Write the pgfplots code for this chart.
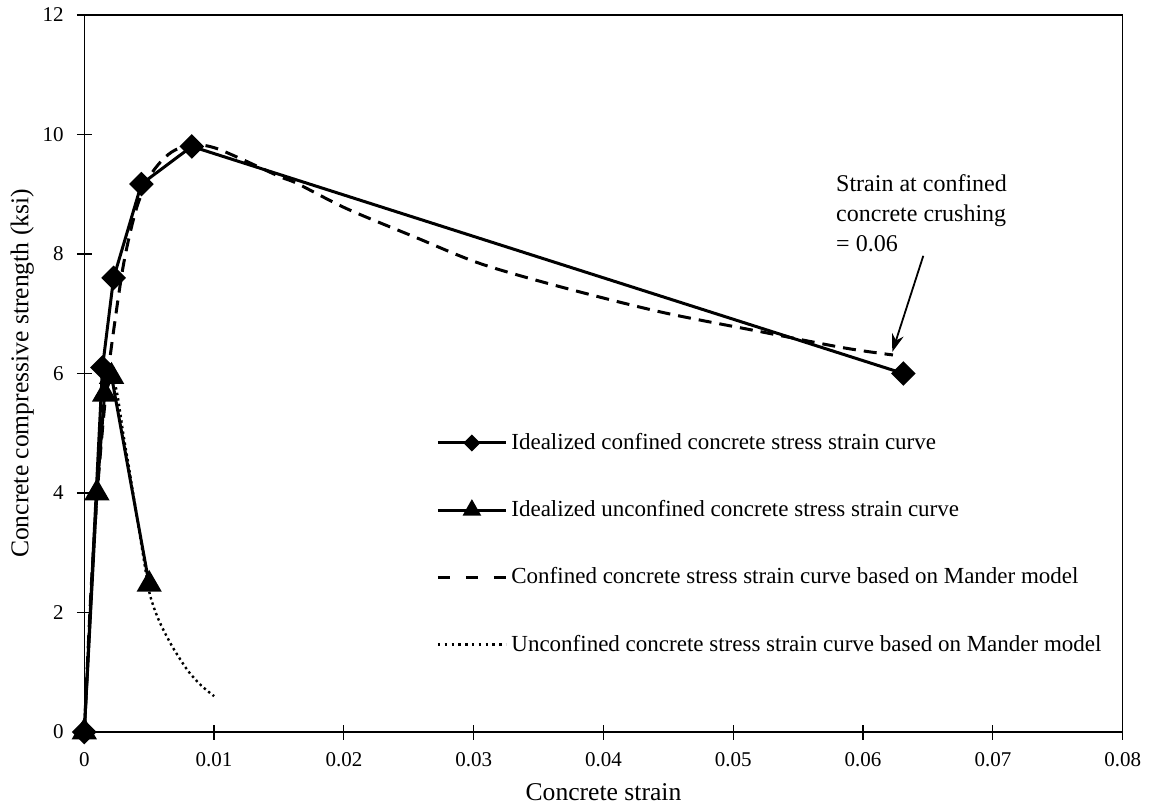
\documentclass[border=0pt]{standalone}
\usepackage{fontspec}
\setmainfont{Liberation Serif}
\usepackage{pgfplots}
\pgfplotsset{compat=1.18}
\usetikzlibrary{arrows.meta}
\begin{document}
\begin{tikzpicture}
\path[use as bounding box] (-42.15pt,-39pt) rectangle (534.35pt,366pt);
\begin{axis}[
  at={(0,0)}, anchor=south west,
  scale only axis, width=519.2pt, height=358.5pt,
  xmin=0, xmax=0.08, ymin=0, ymax=12,
  clip=false,
  axis line style={line width=0.6pt},
  xtick={0,0.01,0.02,0.03,0.04,0.05,0.06,0.07,0.08},
  xticklabels={0,0.01,0.02,0.03,0.04,0.05,0.06,0.07,0.08},
  ytick={0,2,4,6,8,10,12},
  scaled ticks=false,
  tick align=center,
  major tick length=7.5pt,
  xtick pos=bottom, ytick pos=left,
  tick style={black, line width=0.6pt},
  /pgf/number format/assume math mode=true,
  tick label style={font=\fontsize{10.5}{12}\selectfont},
  yticklabel style={xshift=-3pt},
  xticklabel style={yshift=-3pt},
  xlabel={Concrete strain},
  ylabel={Concrete compressive strength (ksi)},
  label style={font=\fontsize{12.8}{15}\selectfont},
  xlabel style={at={(axis description cs:0.5,0)}, anchor=center, yshift=-30pt},
  ylabel style={at={(axis description cs:0,0.5)}, anchor=center, yshift=31pt},
  legend style={draw=none, fill=none, at={(0.3387,0.4226)}, anchor=north west,
    font=\fontsize{11.5}{13}\selectfont, row sep=20pt, cells={anchor=west},
    inner sep=0pt},
  legend cell align=left,
]
% Idealized confined (diamonds)
\addplot[black, line width=1.5pt, mark=square*, mark size=3.6pt,
  mark options={rotate=45, solid},
  legend image code/.code={
    \draw[line width=1.5pt] (0pt,0pt) -- (34pt,0pt);
    \fill (17pt,0pt) +(-3.2pt,0) -- +(0,3.2pt) -- +(3.2pt,0) -- +(0,-3.2pt) -- cycle;}]
  coordinates {(0,0) (0.0014,6.1) (0.00226,7.6) (0.0044,9.17) (0.00828,9.8) (0.0631,6.0)};
\addlegendentry{Idealized confined concrete stress strain curve}
% Idealized unconfined (triangles)
\addplot[black, line width=1.5pt, mark=triangle*, mark size=5.8pt,
  mark options={solid},
  legend image code/.code={
    \draw[line width=1.5pt] (0pt,0pt) -- (34pt,0pt);
    \fill (17pt,0pt) +(-3.4pt,-2pt) -- +(0,4pt) -- +(3.4pt,-2pt) -- cycle;}]
  coordinates {(0,0) (0.00097,4.0) (0.00156,5.65) (0.0021,5.95) (0.005,2.47)};
\addlegendentry{Idealized unconfined concrete stress strain curve}
% Mander confined (dashed)
\addplot[black, line width=1.5pt, dash pattern=on 6.5pt off 4pt, smooth,
  legend image code/.code={
    \draw[line width=1.5pt, dash pattern=on 6pt off 8pt] (0pt,0pt) -- (34pt,0pt);}]
  coordinates {(0,0) (0.0005,2.3) (0.001,4.0) (0.0015,5.3) (0.002,6.3) (0.003,7.8)
   (0.004,8.75) (0.005,9.28) (0.006,9.57) (0.007,9.74) (0.0085,9.83) (0.01,9.78)
   (0.012,9.6) (0.015,9.3) (0.0164,9.18) (0.0202,8.76) (0.0254,8.29) (0.0305,7.84)
   (0.0367,7.45) (0.0444,7.03) (0.0521,6.70) (0.0585,6.43) (0.0623,6.31)};
\addlegendentry{Confined concrete stress strain curve based on Mander model}
% Mander unconfined (dotted)
\addplot[black, line width=1.2pt, dash pattern=on 1.2pt off 1.6pt, smooth,
  legend image code/.code={
    \draw[line width=1.2pt, dash pattern=on 1.2pt off 2.2pt] (0pt,0pt) -- (34pt,0pt);}]
  coordinates {(0,0) (0.0005,2.2) (0.001,4.0) (0.0015,5.5) (0.002,6.0) (0.0025,5.7)
   (0.003,5.0) (0.0035,4.35) (0.004,3.68) (0.0045,3.0) (0.005,2.35) (0.0055,2.0)
   (0.006,1.75) (0.0066,1.5) (0.007,1.35) (0.008,1.02) (0.009,0.78) (0.01,0.6)};
\addlegendentry{Unconfined concrete stress strain curve based on Mander model}
\node[anchor=north west, align=left, inner sep=0pt, font=\fontsize{12}{15}\selectfont]
  at (axis cs:0.0579,9.34) {Strain at confined\\concrete crushing\\= 0.06};
\draw[-{Stealth[length=9pt,width=6pt]}, line width=0.9pt]
  (axis cs:0.06464,7.97) -- (axis cs:0.06225,6.36);
\end{axis}
\end{tikzpicture}
\end{document}
